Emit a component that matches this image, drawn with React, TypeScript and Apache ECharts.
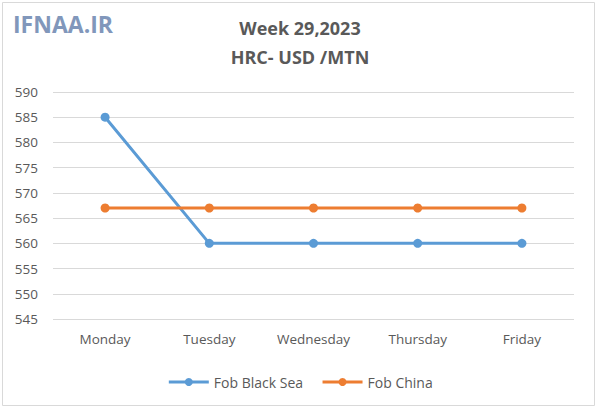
import React, { useEffect, useRef } from "react";
import * as echarts from "echarts";

const categories = ["Monday", "Tuesday", "Wednesday", "Thursday", "Friday"];
const blackSea = [585, 560, 560, 560, 560];
const china = [567, 567, 567, 567, 567];
const titleLines = ["Week 29,2023", "HRC- USD /MTN"];

export default function App() {
  const ref = useRef<HTMLDivElement>(null);
  useEffect(() => {
    document.body.style.margin = "0";
    const chart = echarts.init(ref.current!, null, { renderer: "svg" });
    const font = "'Open Sans', 'Liberation Sans', sans-serif";
    chart.setOption({
      animation: false,
      backgroundColor: "#ffffff",
      title: [
        {
          text: titleLines[0],
          left: "center",
          top: 14,
          textStyle: { fontFamily: font, fontSize: 18, fontWeight: "bold", color: "#595959" },
        },
        {
          text: titleLines[1],
          left: "center",
          top: 43,
          textStyle: { fontFamily: font, fontSize: 18, fontWeight: "bold", color: "#595959" },
        },
      ],
      graphic: [
        {
          type: "rect",
          shape: { x: 2.5, y: 2.5, width: 592, height: 403 },
          style: { fill: "none", stroke: "#d9d9d9", lineWidth: 1 },
          silent: true,
        },
        {
          type: "text",
          left: 13,
          top: 12,
          style: {
            text: "IFNAA.IR",
            font: "bold 23px 'Open Sans', sans-serif",
            fill: "#8197bb",
            shadowBlur: 3,
            shadowColor: "rgba(120,140,180,0.7)",
            shadowOffsetX: 1,
            shadowOffsetY: 2,
          },
        },
      ],
      legend: {
        bottom: 21,
        left: "center",
        itemWidth: 40,
        itemHeight: 10,
        itemGap: 18,
        lineStyle: { width: 3 },
        textStyle: { fontFamily: font, fontSize: 14, color: "#595959" },
        data: ["Fob Black Sea", "Fob China"],
      },
      grid: { left: 53, right: 26, top: 92, bottom: 96 },
      xAxis: {
        type: "category",
        data: categories,
        boundaryGap: true,
        axisLine: { show: false },
        axisTick: { show: false },
        axisLabel: { fontFamily: font, fontSize: 13.5, color: "#595959", margin: 13 },
      },
      yAxis: {
        type: "value",
        min: 545,
        max: 590,
        interval: 5,
        axisLine: { show: false },
        axisTick: { show: false },
        axisLabel: { fontFamily: font, fontSize: 13.5, color: "#595959", margin: 15 },
        splitLine: { lineStyle: { color: "#d9d9d9", width: 1 } },
      },
      series: [
        {
          name: "Fob Black Sea",
          type: "line",
          data: blackSea,
          symbol: "circle",
          symbolSize: 9,
          itemStyle: { color: "#5b9bd5" },
          lineStyle: { color: "#5b9bd5", width: 3 },
        },
        {
          name: "Fob China",
          type: "line",
          data: china,
          symbol: "circle",
          symbolSize: 9,
          itemStyle: { color: "#ed7d31" },
          lineStyle: { color: "#ed7d31", width: 3 },
        },
      ],
    });
    return () => chart.dispose();
  }, []);
  return <div ref={ref} style={{ width: 600, height: 415 }} />;
}
